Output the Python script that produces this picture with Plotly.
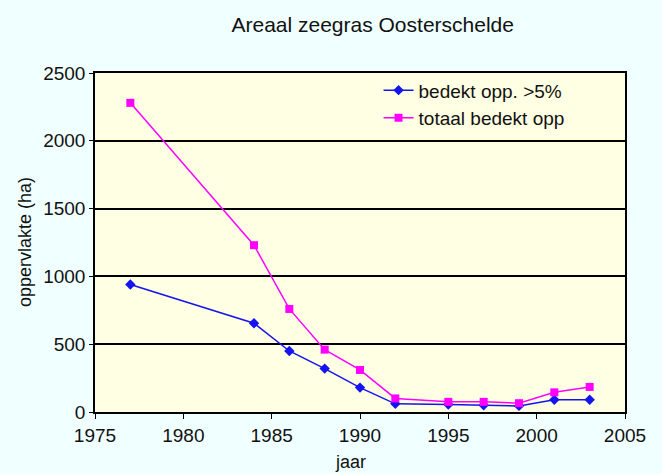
import plotly.graph_objects as go

# Seagrass area in the Oosterschelde, hectares per survey year
years = [1977, 1984, 1986, 1988, 1990, 1992, 1995, 1997, 1999, 2001, 2003]
cover_gt5 = [940, 655, 450, 320, 180, 60, 55, 50, 45, 90, 90]
cover_total = [2280, 1230, 760, 460, 310, 100, 75, 75, 65, 145, 185]

x_ticks = [1975, 1980, 1985, 1990, 1995, 2000, 2005]
y_ticks = [0, 500, 1000, 1500, 2000, 2500]

FONT = "Liberation Sans"

fig = go.Figure()
fig.add_trace(go.Scatter(
    x=years, y=cover_gt5, name="bedekt opp. >5%", mode="lines+markers",
    line=dict(color="#1414F0", width=1.5),
    marker=dict(symbol="diamond", size=8, color="#1414F0"),
))
fig.add_trace(go.Scatter(
    x=years, y=cover_total, name="totaal bedekt opp", mode="lines+markers",
    line=dict(color="#FF00FF", width=1.5),
    marker=dict(symbol="square", size=8, color="#FF00FF"),
))

fig.update_layout(
    width=662, height=474,
    margin=dict(l=95, r=37, t=73, b=62),
    paper_bgcolor="#F0FFFF",
    plot_bgcolor="#FFFFE3",
    font=dict(family=FONT, size=19, color="#111111"),
    title=dict(text="Areaal zeegras Oosterschelde", x=0.563, xanchor="center",
               y=0.947, yanchor="middle", font=dict(family=FONT, size=21)),
    showlegend=True,
    legend=dict(x=0.535, y=1.005, xanchor="left", yanchor="top",
                bgcolor="rgba(0,0,0,0)", itemwidth=30, tracegroupgap=0,
                font=dict(family=FONT, size=19)),
    xaxis=dict(range=[1975, 2005], tickvals=x_ticks, showgrid=False,
               showline=True, linecolor="black", linewidth=1.5, mirror=True,
               ticks="outside", ticklen=5, tickcolor="black", zeroline=False),
    yaxis=dict(range=[0, 2500], tickvals=y_ticks, showgrid=True,
               gridcolor="black", gridwidth=1.5,
               showline=True, linecolor="black", linewidth=1.5, mirror=True,
               ticks="outside", ticklen=4, tickcolor="black", zeroline=False),
    annotations=[
        dict(text="jaar", x=350, y=462, xref="paper", yref="paper",
             xanchor="center", yanchor="middle",
             showarrow=False, font=dict(family=FONT, size=18)),
        dict(text="oppervlakte (ha)", x=25, y=242, xref="paper", yref="paper",
             xanchor="center", yanchor="middle",
             textangle=-90, showarrow=False, font=dict(family=FONT, size=18)),
    ],
)

# Axis-title annotations are given in pixels; convert to paper fractions
pw, ph = 662 - 95 - 37, 474 - 73 - 62
for a in fig.layout.annotations:
    a.x = (a.x - 95) / pw
    a.y = (474 - 62 - a.y) / ph

fig.write_html("out.html")
